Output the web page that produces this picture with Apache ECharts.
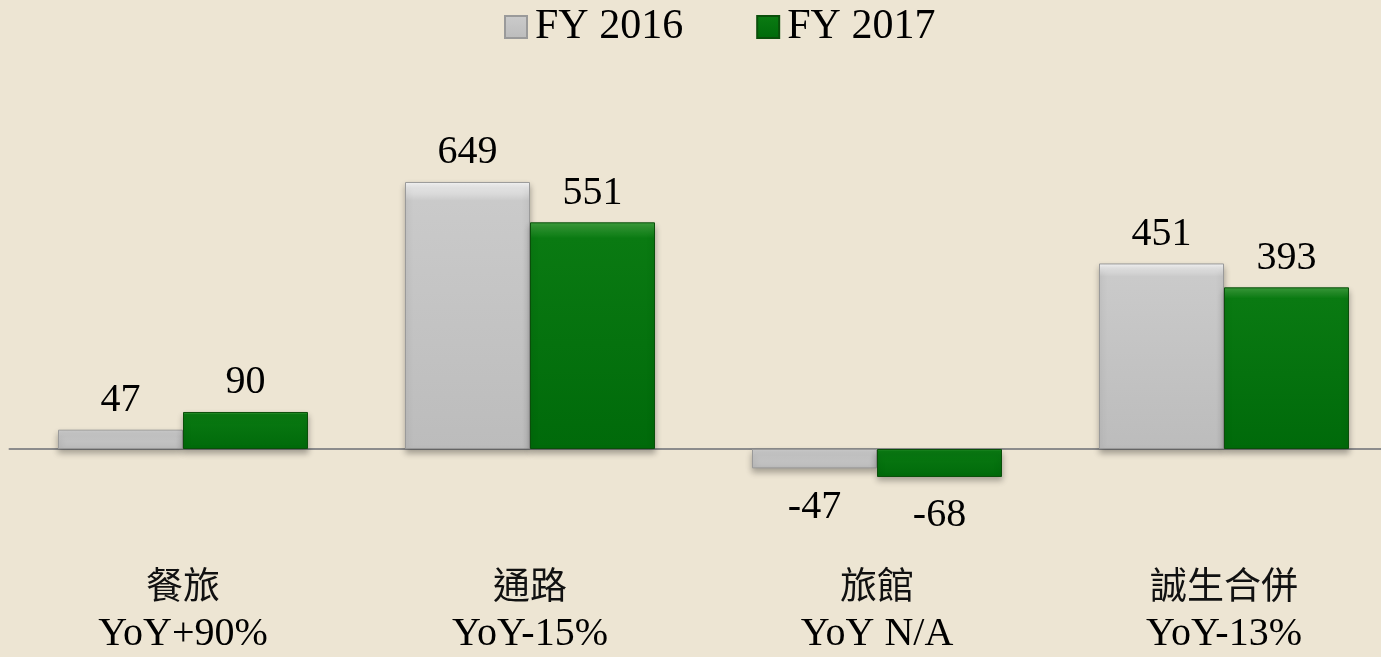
<!DOCTYPE html>
<html>
<head>
<meta charset="utf-8">
<script src="https://cdn.jsdelivr.net/npm/echarts@6/dist/echarts.min.js"></script>
<style>
    html, body {
        margin: 0;
        padding: 0;
        background: #ede5d3;
    }
    #chart {
        width: 1381px;
        height: 657px;
    }
</style>
</head>
<body>
<div id="chart"></div>
<script>
// 分類與數值
const categories = ["餐旅", "通路", "旅館", "誠生合併"];
const yoyLabels = ["YoY+90%", "YoY-15%", "YoY N/A", "YoY-13%"];
const fy2016 = [47, 649, -47, 451];
const fy2017 = [90, 551, -68, 393];

const serifFont = '"Liberation Serif", "Times New Roman", serif';

// 負值的標籤放在柱子下方
function toBarData(values) {
    return values.map(function (v) {
        return v < 0 ? { value: v, label: { position: "bottom", distance: 19 } } : v;
    });
}

let myChart = echarts.init(document.getElementById("chart"));

let option = {
    backgroundColor: "#ede5d3",
    animation: false,
    legend: {
        left: 499,
        top: 1,
        itemWidth: 22,
        itemHeight: 22,
        itemGap: 73,
        icon: "rect",
        textStyle: {
            fontFamily: serifFont,
            fontSize: 42,
            color: "#000",
            padding: [0, 0, 0, 3],
        },
        data: ["FY 2016", "FY 2017"],
    },
    grid: {
        left: 9.5,
        right: -16.5,
        top: 161,
        bottom: 125.7,
        containLabel: false,
        outerBoundsMode: "none",
    },
    xAxis: {
        type: "category",
        data: categories,
        axisTick: { show: false },
        axisLine: {
            onZero: true,
            lineStyle: { color: "#8c8c8c", width: 2 },
        },
        axisLabel: {
            margin: 30,
            formatter: function (value, idx) {
                return "{c|" + value + "}\n{y|" + yoyLabels[idx] + "}";
            },
            rich: {
                c: {
                    fontFamily: '"Noto Sans CJK TC", sans-serif',
                    fontSize: 37,
                    lineHeight: 48,
                    color: "#111",
                },
                y: {
                    fontFamily: serifFont,
                    fontSize: 40,
                    lineHeight: 50,
                    color: "#000",
                },
            },
        },
    },
    yAxis: {
        type: "value",
        min: -200,
        max: 700,
        show: false,
        splitLine: { show: false },
    },
    series: [
        {
            name: "FY 2016",
            type: "bar",
            barWidth: 125,
            barGap: "0%",
            data: toBarData(fy2016),
            itemStyle: {
                color: new echarts.graphic.LinearGradient(0, 0, 0, 1, [
                    { offset: 0, color: "#f6f6f6" },
                    { offset: 0.07, color: "#cacaca" },
                    { offset: 1, color: "#bcbcbc" },
                ]),
                borderColor: "#9a9a9a",
                borderWidth: 1,
                shadowBlur: 6,
                shadowOffsetY: 4,
                shadowColor: "rgba(0,0,0,0.3)",
            },
            label: {
                show: true,
                position: "top",
                distance: 9,
                fontFamily: serifFont,
                fontSize: 40,
                color: "#000",
            },
        },
        {
            name: "FY 2017",
            type: "bar",
            barWidth: 125,
            barGap: "0%",
            data: toBarData(fy2017),
            itemStyle: {
                color: new echarts.graphic.LinearGradient(0, 0, 0, 1, [
                    { offset: 0, color: "#3c9e3c" },
                    { offset: 0.07, color: "#0a7a12" },
                    { offset: 1, color: "#006a0a" },
                ]),
                borderColor: "#0a4f0a",
                borderWidth: 1,
                shadowBlur: 6,
                shadowOffsetY: 4,
                shadowColor: "rgba(0,0,0,0.3)",
            },
            label: {
                show: true,
                position: "top",
                distance: 9,
                fontFamily: serifFont,
                fontSize: 40,
                color: "#000",
            },
        },
    ],
};

myChart.setOption(option);
window.addEventListener("resize", function () {
    myChart.resize();
});
</script>
</body>
</html>
